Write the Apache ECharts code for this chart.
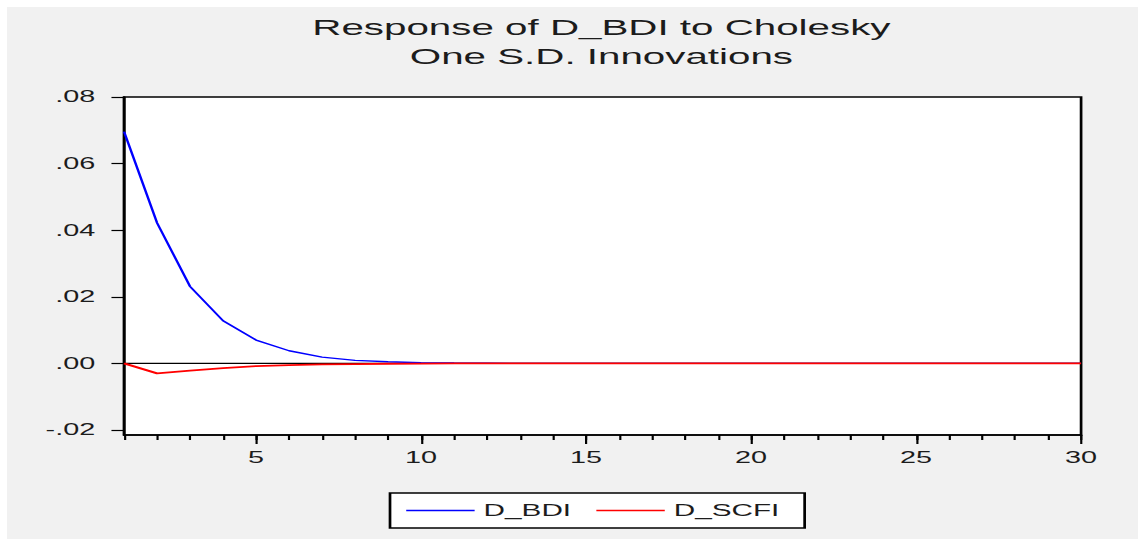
<!DOCTYPE html>
<html>
<head>
<meta charset="utf-8">
<script src="https://cdn.jsdelivr.net/npm/echarts@6/dist/echarts.min.js"></script>
<style>
  html, body { margin: 0; padding: 0; background: #fff; overflow: hidden; }
  #bg { position: absolute; left: 7px; top: 7px; width: 1131px; height: 532px; background: #f1f1f1; }
  /* the source picture is stretched sideways, so the chart is drawn narrow and widened */
  #main { position: absolute; left: 0; top: 0; width: 632px; height: 539px;
          transform: scaleX(1.8006); transform-origin: 0 0; }
</style>
</head>
<body>
<div id="bg"></div>
<div id="main"></div>
<script>
// impulse responses, periods 1..30
var periods = [];
for (var p = 1; p <= 30; p++) periods.push(p);

var bdi = [0.0696, 0.0422, 0.0231, 0.0128, 0.0070, 0.0038, 0.0019, 0.0009, 0.0005, 0.0002,
           0.0001, 0.00005, 0, 0, 0, 0, 0, 0, 0, 0,
           0, 0, 0, 0, 0, 0, 0, 0, 0, 0];
var scfi = [0, -0.0030, -0.0022, -0.0014, -0.0008, -0.0005, -0.0003, -0.0002, -0.0001, -0.00005,
            0, 0, 0, 0, 0, 0, 0, 0, 0, 0,
            0, 0, 0, 0, 0, 0, 0, 0, 0, 0];

var xLabels = [5, 10, 15, 20, 25, 30];
var yTicks = [-0.02, 0, 0.02, 0.04, 0.06, 0.08];
var zeroLine = [[1, 0], [30, 0]];

function pairs(vals) {
    return vals.map(function (v, i) { return [periods[i], v]; });
}

var font = 'Liberation Sans, Arial, sans-serif';
var myChart = echarts.init(document.getElementById('main'), null, { renderer: 'svg' });

var option = {
    backgroundColor: 'transparent',
    animation: false,
    title: {
        text: 'Response of D_BDI to Cholesky\nOne S.D. Innovations',
        left: 329,
        top: 8,
        textAlign: 'center',
        textStyle: { fontFamily: font, fontSize: 22.4, fontWeight: 'normal', color: '#1c1c1c', lineHeight: 29 }
    },
    legend: {
        data: ['D_BDI', 'D_SCFI'],
        left: 216.6,
        top: 493,
        padding: [9, 14, 9, 9],
        itemGap: 14,
        itemWidth: 38,
        itemHeight: 1.4,
        icon: 'rect',
        borderColor: '#000',
        borderWidth: 1.5,
        backgroundColor: '#fff',
        textStyle: { fontFamily: font, fontSize: 16.5, color: '#1c1c1c', lineHeight: 16 }
    },
    grid: {
        left: 68.9,
        right: 31.6,
        top: 97,
        bottom: 104,
        show: true,
        backgroundColor: '#fff',
        borderColor: '#000',
        borderWidth: 1.5,
        outerBoundsMode: 'none'
    },
    xAxis: [{
        type: 'value',
        min: 1,
        max: 30,
        interval: 1,
        axisLine: { onZero: false, lineStyle: { color: '#000', width: 1.5 } },
        axisTick: { length: 5, lineStyle: { color: '#000', width: 1.2 } },
        axisLabel: {
            customValues: xLabels,
            margin: 15,
            fontFamily: font,
            fontSize: 16,
            color: '#1c1c1c'
        },
        splitLine: { show: false }
    }, {
        type: 'value',
        position: 'bottom',
        min: 1,
        max: 30,
        axisLine: { show: false, onZero: false },
        axisTick: { customValues: xLabels, length: 9, lineStyle: { color: '#000', width: 1.2 } },
        axisLabel: { show: false },
        splitLine: { show: false }
    }],
    yAxis: {
        type: 'value',
        min: -0.0215,
        max: 0.08,
        axisLine: { show: true, onZero: false, lineStyle: { color: '#000', width: 1.5 } },
        axisTick: { show: true, customValues: yTicks, length: 7, lineStyle: { color: '#000', width: 1.2 } },
        axisLabel: {
            customValues: yTicks,
            margin: 16,
            fontFamily: font,
            fontSize: 16,
            color: '#1c1c1c',
            formatter: function (v) {
                var s = Math.abs(v).toFixed(2).replace(/^0/, '');
                return (v < -1e-9 ? '-' : '') + s;
            }
        },
        splitLine: { show: false }
    },
    series: [{
        name: 'zero',
        type: 'line',
        data: zeroLine,
        symbol: 'none',
        silent: true,
        lineStyle: { color: '#000', width: 1.2 }
    }, {
        name: 'D_BDI',
        type: 'line',
        data: pairs(bdi),
        symbol: 'none',
        color: '#0000ff',
        lineStyle: { color: '#0000ff', width: 1.4 }
    }, {
        name: 'D_SCFI',
        type: 'line',
        data: pairs(scfi),
        symbol: 'none',
        color: '#ff0000',
        lineStyle: { color: '#ff0000', width: 1.8 }
    }]
};

myChart.setOption(option);
</script>
</body>
</html>
